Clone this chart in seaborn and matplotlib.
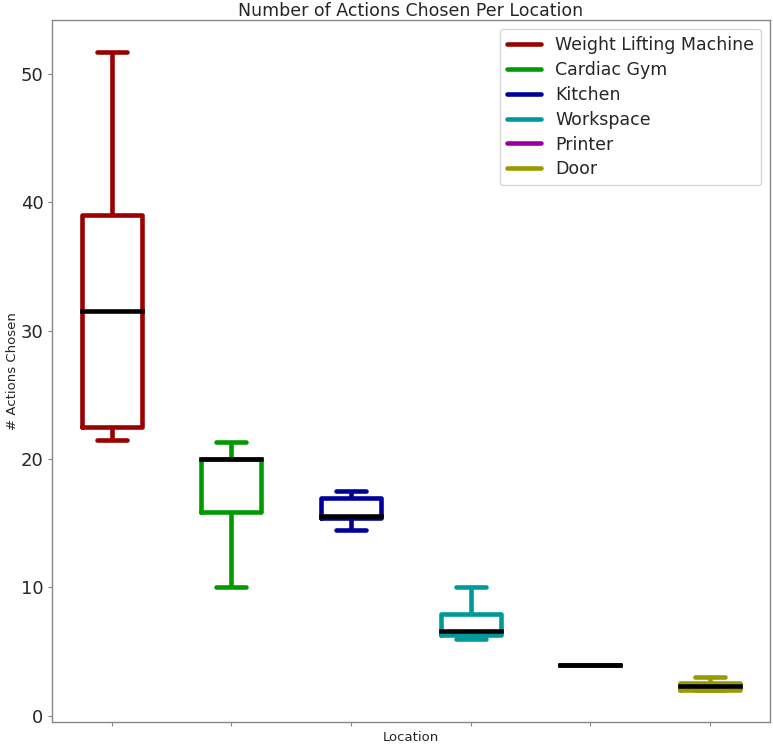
import numpy as np
import pandas as pd
import matplotlib
matplotlib.use("Agg")
import matplotlib.pyplot as plt
from matplotlib.lines import Line2D
import seaborn as sns

# Number of actions chosen in each session, grouped by location
locations = ["Weight Lifting Machine", "Cardiac Gym", "Kitchen",
             "Workspace", "Printer", "Door"]
weight_lifting = [21.5, 22.5, 31.5, 39.0, 51.7]
cardiac_gym = [10.0, 15.9, 20.0, 20.0, 21.3]
kitchen = [14.5, 15.4, 15.6, 17.0, 17.5]
workspace = [6.0, 6.3, 6.6, 7.9, 10.0]
printer = [4.0, 4.0, 4.0, 4.0, 4.0]
door = [2.0, 2.0, 2.3, 2.6, 3.0]
colors = ["#990000", "#009900", "#000099", "#009999", "#990099", "#999900"]

series = [weight_lifting, cardiac_gym, kitchen, workspace, printer, door]
df = pd.DataFrame({
    "Location": np.repeat(locations, [len(s) for s in series]),
    "Actions": np.concatenate(series),
})

sns.set_style("white")
plt.rcParams["font.family"] = ["DejaVu Sans"]

fig = plt.figure(figsize=(7.73, 7.46), dpi=100)
ax = fig.add_axes([0.067, 0.032, 0.929, 0.941])

lw = 3.3
sns.boxplot(
    data=df, x="Location", y="Actions", hue="Location",
    order=locations, hue_order=locations, palette=colors,
    fill=False, width=0.5, linewidth=lw, legend=False,
    medianprops=dict(color="black", linewidth=lw,
                     solid_capstyle="projecting"),
    ax=ax,
)

ax.set_xticks(range(len(locations)))
ax.set_xticklabels([""] * len(locations))
ax.tick_params(axis="y", labelsize=13, length=3, color="#888888", left=True,
               pad=3)
ax.tick_params(axis="x", length=3, color="#888888", bottom=True)
for sp in ax.spines.values():
    sp.set_color("#888888")
    sp.set_linewidth(1.0)

ax.set_xlabel("Location", fontsize=9.5, labelpad=0)
ax.set_ylabel("# Actions Chosen", fontsize=9.5, labelpad=1)
ax.set_title("Number of Actions Chosen Per Location", fontsize=12.5, pad=3)

handles = [Line2D([0], [0], color=c, lw=lw) for c in colors]
ax.legend(handles, locations, loc="upper right", fontsize=12.5,
          handlelength=2.0, labelspacing=0.4, frameon=True)

fig.savefig("out.png", dpi=100)
